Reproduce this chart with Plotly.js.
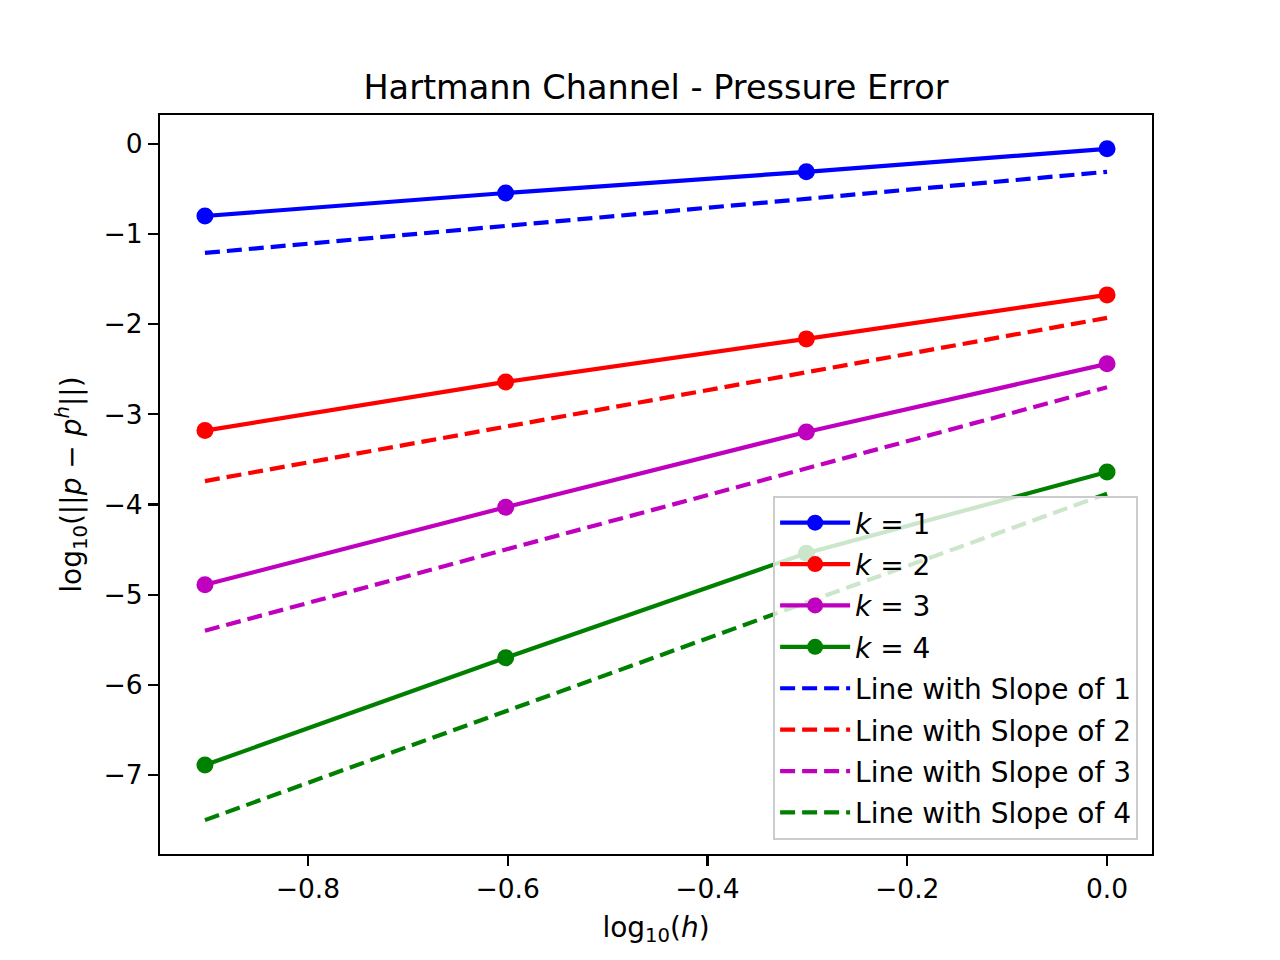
<!DOCTYPE html>
<html>
<head>
<meta charset="utf-8">
<script src="https://cdn.plot.ly/plotly-3.0.1.min.js"></script>
<style>html,body{margin:0;padding:0;background:#fff;}#chart{width:1280px;height:960px;}</style>
</head>
<body>
<div id="chart"></div>
<script>
// log10(h) for h = 1/8, 1/4, 1/2, 1
const logH = [-0.903, -0.602, -0.301, 0.0];

// measured errors (log10)
const errK1 = [-0.80, -0.545, -0.31, -0.055];
const errK2 = [-3.18, -2.64, -2.163, -1.675];
const errK3 = [-4.89, -4.03, -3.195, -2.44];
const errK4 = [-6.89, -5.70, -4.54, -3.64];

// reference slope lines (log10)
const slope1 = [-1.21, -0.91, -0.61, -0.31];
const slope2 = [-3.74, -3.13, -2.53, -1.93];
const slope3 = [-5.40, -4.50, -3.60, -2.70];
const slope4 = [-7.50, -6.29, -5.09, -3.88];

const solidNames = ['<i>k</i> = 1', '<i>k</i> = 2', '<i>k</i> = 3', '<i>k</i> = 4'];
const dashNames = ['Line with Slope of 1', 'Line with Slope of 2', 'Line with Slope of 3', 'Line with Slope of 4'];
const colors = ['#0000ff', '#ff0000', '#bf00bf', '#008000'];

const xTicks = [-0.8, -0.6, -0.4, -0.2, 0.0];
const xTickText = ['\u22120.8', '\u22120.6', '\u22120.4', '\u22120.2', '0.0'];
const yTicks = [0, -1, -2, -3, -4, -5, -6, -7];
const yTickText = ['0', '\u22121', '\u22122', '\u22123', '\u22124', '\u22125', '\u22126', '\u22127'];

const errs = [errK1, errK2, errK3, errK4];
const slopes = [slope1, slope2, slope3, slope4];

const traces = [];
errs.forEach((e, i) => traces.push({
  x: logH, y: e, mode: 'lines+markers', name: solidNames[i], legendgroup: 'k' + i,
  line: {color: colors[i], width: 4.2},
  marker: {color: colors[i], size: 17}
}));
slopes.forEach((s, i) => traces.push({
  x: [logH[0], logH[3]], y: [s[0], s[3]], mode: 'lines', name: dashNames[i], legendgroup: 's' + i,
  line: {color: colors[i], width: 4.2, dash: '15px,7px'}
}));

const fam = 'DejaVu Sans, sans-serif';
const tickFont = {family: fam, size: 26.5, color: '#000'};
const labelFont = {family: fam, size: 28, color: '#000'};

const layout = {
  width: 1280, height: 960,
  paper_bgcolor: '#fff', plot_bgcolor: '#fff',
  margin: {l: 160, r: 128, t: 115, b: 106},
  font: labelFont,
  title: {text: 'Hartmann Channel - Pressure Error', font: {family: fam, size: 33.5, color: '#000'},
          x: 0.5, xref: 'paper', xanchor: 'center', y: 1, yref: 'paper', yanchor: 'bottom', pad: {b: 16}},
  showlegend: true,
  xaxis: {
    range: [-0.948, 0.045], showgrid: false, zeroline: false,
    showline: true, linecolor: '#000', linewidth: 2.2, mirror: true,
    ticks: 'outside', ticklen: 10, tickwidth: 2.2, tickcolor: '#000',
    tickvals: xTicks, ticktext: xTickText, tickfont: tickFont,
    title: {text: 'log<sub>10</sub>(<i>h</i>)', font: labelFont, standoff: 14}
  },
  yaxis: {
    range: [-7.876, 0.32], showgrid: false, zeroline: false,
    showline: true, linecolor: '#000', linewidth: 2.2, mirror: true,
    ticks: 'outside', ticklen: 10, tickwidth: 2.2, tickcolor: '#000',
    tickvals: yTicks, ticktext: yTickText, tickfont: tickFont,
    title: {text: 'log<sub>10</sub>(||<i>p</i> \u2212 <i>p</i><sup><i>h</i></sup>||)', font: labelFont, standoff: 14}
  },
  legend: {
    x: 0.986, xanchor: 'right', y: 0.019, yanchor: 'bottom',
    bgcolor: 'rgba(255,255,255,0.8)', bordercolor: '#cccccc', borderwidth: 2,
    font: labelFont, tracegroupgap: 2, itemwidth: 70
  }
};

Plotly.newPlot('chart', traces, layout, {displayModeBar: false, staticPlot: true});
</script>
</body>
</html>
